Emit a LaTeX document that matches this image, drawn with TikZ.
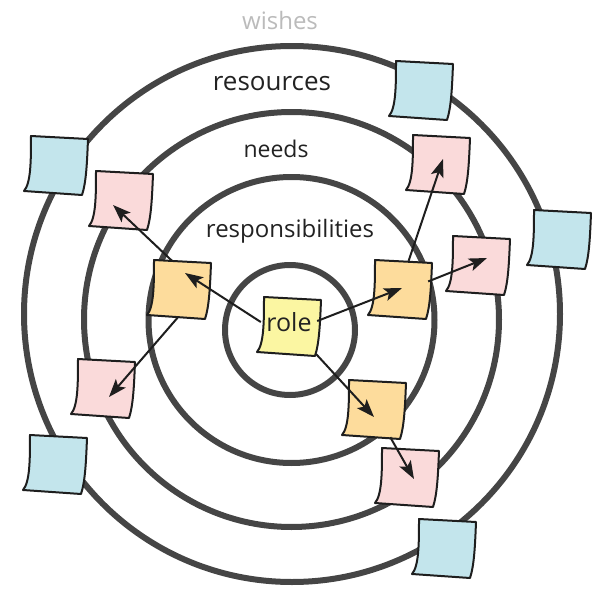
\documentclass[tikz,border=0pt]{standalone}
\usepackage{fontspec}
\setmainfont{Open Sans}
\usetikzlibrary{arrows.meta}
\definecolor{ringc}{HTML}{454545}
\definecolor{notebd}{HTML}{1E1E1E}
\definecolor{bluen}{HTML}{C3E5EC}
\definecolor{pinkn}{HTML}{FADADA}
\definecolor{orangen}{HTML}{FDDC9C}
\definecolor{yellown}{HTML}{FBF6A2}
\definecolor{wishc}{HTML}{BBBBBB}
\definecolor{lblc}{HTML}{222222}
\tikzset{
  ring/.style={draw=ringc, line width=6pt},
  notebox/.style={rectangle, minimum width=56pt, minimum height=56pt, inner sep=0pt},
  noteline/.style={draw=notebd, line width=2pt, line join=round},
  conn/.style={draw=notebd, line width=2pt, -{Stealth[length=18pt,width=13pt,inset=4pt]}},
  lbl/.style={text=lblc, font=\fontsize{24}{24}\selectfont, inner sep=0pt}
}
\newcommand\stickynote[4]{%
  \begin{scope}[shift={(#2,#3)}]
    \path[noteline, fill=#4] (-25,-29) -- (32,-26) .. controls (31,0) and (30,18) .. (26,30)
      -- (-32,26) .. controls (-25,18) and (-25,-5) .. cycle;
  \end{scope}
  \node[notebox] (#1) at (#2,#3) {};
}
\begin{document}
\begin{tikzpicture}[x=1pt,y=-1pt]
\useasboundingbox (0,0) rectangle (598,589);
% rings
\draw[ring] (292,314) circle[radius=268pt];
\draw[ring] (291.5,319.5) circle[radius=207.5pt];
\draw[ring] (291.5,320) circle[radius=143pt];
\draw[ring] (290,330) circle[radius=65pt];
% labels
\node[lbl, text=wishc] (wishes) at (280,20) {wishes};
\node[lbl, font=\fontsize{26}{26}\selectfont] (resources) at (272,84) {resources};
\node[lbl, font=\fontsize{23}{23}\selectfont] (needs) at (276,149) {needs};
\node[lbl] (resp) at (290,231) {responsibilities};
% blue notes
\stickynote{b1}{421}{90}{bluen}
\stickynote{b2}{56}{165}{bluen}
\stickynote{b3}{559}{239}{bluen}
\stickynote{b4}{55}{464}{bluen}
\stickynote{b5}{444}{548}{bluen}
% pink notes
\stickynote{p1}{121}{200}{pinkn}
\stickynote{p2}{438}{164}{pinkn}
\stickynote{p3}{478}{265}{pinkn}
\stickynote{p4}{103}{388}{pinkn}
\stickynote{p5}{407}{477}{pinkn}
% orange notes
\stickynote{o1}{179}{289}{orangen}
\stickynote{o2}{400}{289}{orangen}
\stickynote{o3}{374}{409}{orangen}
% role
\stickynote{role}{289}{326}{yellown}
\node[lbl, font=\fontsize{25}{25}\selectfont] (roletext) at (289,322) {role};
% arrow tips
\coordinate (t1) at (185,273);
\coordinate (t2) at (113,205);
\coordinate (t3) at (109,397);
\coordinate (t4) at (402,288);
\coordinate (t5) at (443,159);
\coordinate (t6) at (487,258);
\coordinate (t7) at (374,417);
\coordinate (t8) at (414,479);
% connectors
\draw[conn] (role.172) -- (t1);
\draw[conn] (o1.104) -- (t2);
\draw[conn] (o1.268) -- (t3);
\draw[conn] (role.10) -- (t4);
\draw[conn] (o2.73) -- (t5);
\draw[conn] (o2.15) -- (t6);
\draw[conn] (role.314) -- (t7);
\draw[conn] (o3.300) -- (t8);
\end{tikzpicture}
\end{document}
